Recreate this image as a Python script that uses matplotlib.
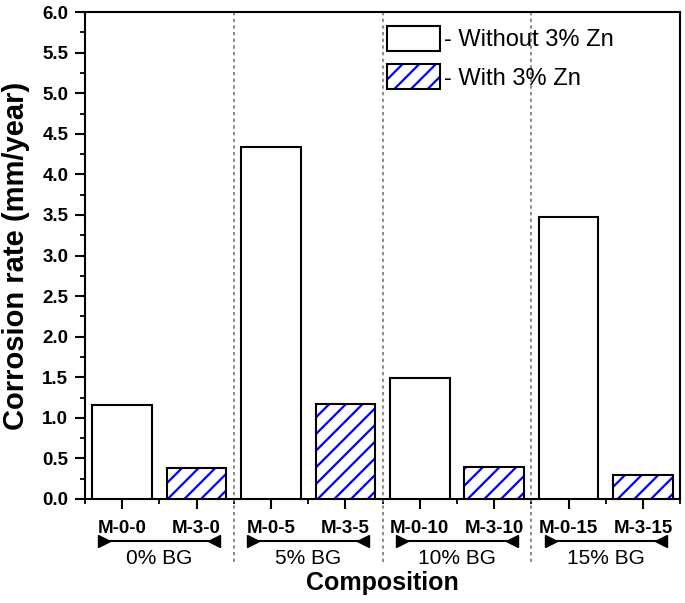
import numpy as np
import matplotlib
matplotlib.use("Agg")
import matplotlib.pyplot as plt
from matplotlib.ticker import MultipleLocator, FormatStrFormatter
from matplotlib.patches import Patch
from matplotlib.legend_handler import HandlerTuple

plt.rcParams['font.family'] = ['Liberation Sans', 'DejaVu Sans']
plt.rcParams['hatch.linewidth'] = 1.6

# data
labels = ["M-0-0", "M-3-0", "M-0-5", "M-3-5", "M-0-10", "M-3-10", "M-0-15", "M-3-15"]
groups = ["0% BG", "5% BG", "10% BG", "15% BG"]
without_zn = [1.16, 4.34, 1.49, 3.47]
with_zn = [0.38, 1.17, 0.40, 0.30]

x_all = np.arange(1, len(labels) + 1)
x_without = x_all[0::2]
x_with = x_all[1::2]
group_centers = (x_without + x_with) / 2

fig = plt.figure(figsize=(6.85, 6.03), dpi=100)
ax = fig.add_axes([0.124, 0.1725, 0.869, 0.8075])

w = 0.8
ax.bar(x_without, without_zn, width=w, facecolor='white', edgecolor='black', lw=1.5, zorder=3)
ax.bar(x_with, with_zn, width=w, facecolor='white', edgecolor='blue', hatch='//', lw=0, zorder=3)
ax.bar(x_with, with_zn, width=w, fill=False, edgecolor='black', lw=1.5, zorder=4)

ax.set_xlim(0.5, 8.5)
ax.set_ylim(0, 6.0)

# group dividers (extend into label area)
trans = ax.get_xaxis_transform()
for xd in group_centers[:-1] + 1.0:
    ax.plot([xd, xd], [1.0, -0.135], transform=trans, color='#777777', lw=1.2,
            ls=(0, (2, 2)), clip_on=False, zorder=2)

# ticks
ax.set_xticks(x_all)
ax.set_xticklabels(labels, fontsize=13.5, fontweight='bold')
ax.xaxis.set_minor_locator(MultipleLocator(0.5))
ax.yaxis.set_major_locator(MultipleLocator(0.5))
ax.yaxis.set_minor_locator(MultipleLocator(0.25))
ax.yaxis.set_major_formatter(FormatStrFormatter('%.1f'))
ax.tick_params(axis='y', labelsize=13.5, pad=5)
ax.tick_params(which='major', direction='out', length=7, width=1.5, color='black')
ax.tick_params(which='minor', direction='out', length=3.5, width=1.3)
ax.tick_params(axis='x', which='major', pad=8)
for lbl in ax.get_yticklabels():
    lbl.set_fontweight('bold')

for s in ax.spines.values():
    s.set_linewidth(1.5)

# group brackets and labels
half = 0.74
for c, g in zip(group_centers, groups):
    ax.plot([c - half, c + half], [-0.086, -0.086], transform=trans, color='black',
            lw=1.5, clip_on=False)
    ax.plot([c - half], [-0.086], transform=trans, marker='>', ms=8, color='black',
            clip_on=False)
    ax.plot([c + half], [-0.086], transform=trans, marker='<', ms=8, color='black',
            clip_on=False)
    ax.text(c, -0.122, g, transform=trans, ha='center', va='center', fontsize=15)

ax.set_ylabel("Corrosion rate (mm/year)", fontsize=21, fontweight='bold')
ax.yaxis.set_label_coords(-0.092, 0.5)
ax.set_xlabel("Composition", fontsize=18, fontweight='bold')
ax.xaxis.set_label_coords(0.5, -0.148)

# legend
h1 = Patch(facecolor='white', edgecolor='black', lw=1.5)
h2a = Patch(facecolor='white', edgecolor='blue', hatch='//', lw=0)
h2b = Patch(fill=False, edgecolor='black', lw=1.5)
ax.legend([h1, (h2a, h2b)], ["- Without 3% Zn", "- With 3% Zn"],
          handler_map={tuple: HandlerTuple(ndivide=1, pad=0)},
          loc='upper left', bbox_to_anchor=(0.508, 0.971), borderaxespad=0, borderpad=0,
          frameon=False, fontsize=17, handlelength=2.25, handleheight=1.22,
          handletextpad=0.17, labelspacing=0.55)

fig.savefig("out.png", dpi=100)
